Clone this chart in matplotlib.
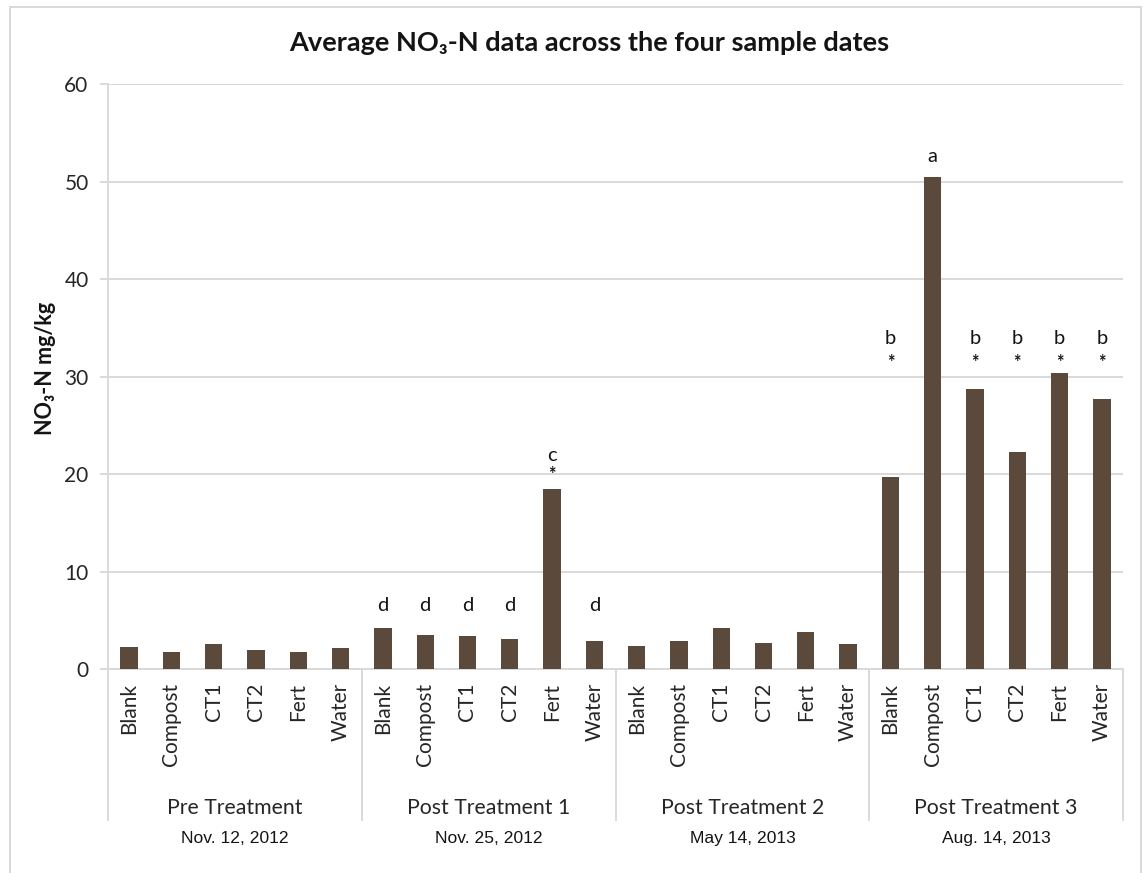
import matplotlib
matplotlib.use("Agg")
import matplotlib.pyplot as plt
import matplotlib.transforms as mtransforms
from matplotlib.patches import Rectangle

# --- data -------------------------------------------------------------
treatments = ["Blank", "Compost", "CT1", "CT2", "Fert", "Water"]
periods = ["Pre Treatment", "Post Treatment 1", "Post Treatment 2", "Post Treatment 3"]
dates = ["Nov. 12, 2012", "Nov. 25, 2012", "May 14, 2013", "Aug. 14, 2013"]

pre_treatment = [2.3, 1.7, 2.6, 2.0, 1.7, 2.2]
post_treatment_1 = [4.25, 3.45, 3.4, 3.05, 18.5, 2.85]
post_treatment_2 = [2.4, 2.85, 4.2, 2.7, 3.75, 2.6]
post_treatment_3 = [19.7, 50.5, 28.7, 22.3, 30.4, 27.7]

# significance letters and asterisks
letters_post_1 = ["d", "d", "d", "d", "c", "d"]
stars_post_1 = [False, False, False, False, True, False]
letters_post_3 = ["b", "a", "b", "b", "b", "b"]
stars_post_3 = [True, False, True, True, True, True]

yticks = [0, 10, 20, 30, 40, 50, 60]

# --- style --------------------------------------------------------------
BAR = "#5b4a3b"
GRID = "#d9d9d9"
INK = "#141414"
SANS = ["Lato", "DejaVu Sans"]
ARIAL = ["Liberation Sans", "DejaVu Sans"]

# heights at which the letters / asterisks sit, per letter
letter_level = {"a": 52.6, "b": 33.9, "c": 21.9, "d": 6.5}
star_level = {"b": 31.4, "c": 20.0}

W, H = 1144, 873
fig = plt.figure(figsize=(W / 100, H / 100), dpi=100)
ax = fig.add_axes([108 / W, 1 - 669 / H, (1123 - 108) / W, (669 - 84) / H])

groups = [pre_treatment, post_treatment_1, post_treatment_2, post_treatment_3]
values = [v for g in groups for v in g]
labels = treatments * len(groups)
xs = list(range(len(values)))

ax.bar(xs, values, width=0.41, color=BAR, zorder=3)

ax.set_xlim(-0.5, len(values) - 0.5)
ax.set_ylim(0, 60)
ax.set_yticks(yticks)
ax.yaxis.grid(True, color=GRID, lw=1.4, zorder=0)
ax.set_axisbelow(True)
ax.tick_params(axis="y", length=6, width=1.4, color=GRID, pad=8,
               labelsize=15, labelcolor="#262626")
for t in ax.get_yticklabels():
    t.set_fontfamily(SANS)
ax.set_xticks([])
for s in ["top", "right"]:
    ax.spines[s].set_visible(False)
ax.spines["left"].set_color(GRID)
ax.spines["left"].set_linewidth(1.4)
ax.spines["bottom"].set_color(GRID)
ax.spines["bottom"].set_linewidth(1.4)

blend = mtransforms.blended_transform_factory(ax.transData, ax.transAxes)

# category labels
for x, lab in zip(xs, labels):
    ax.text(x, -0.024, lab, rotation=90, ha="center", va="top",
            transform=blend, fontsize=15, family=SANS, color="#262626")

# group separators running below the axis
n = len(treatments)
for k in range(len(groups) + 1):
    ax.plot([k * n - 0.5, k * n - 0.5], [0, -0.258], transform=blend,
            color=GRID, lw=1.4, clip_on=False, zorder=1)

for k, (p, d) in enumerate(zip(periods, dates)):
    cx = k * n + (n - 1) / 2
    ax.text(cx, -0.237, p, ha="center", va="center", transform=blend,
            fontsize=15.3, family=SANS, color="#262626")
    ax.text(cx, -0.289, d, ha="center", va="center", transform=blend,
            fontsize=12.6, family=ARIAL, color=INK)

# significance annotations
def annotate(group_index, letters, stars):
    for i, (L, s) in enumerate(zip(letters, stars)):
        x = group_index * n + i
        ax.text(x, letter_level[L], L, ha="center", va="center",
                fontsize=14.5, family=SANS, color=INK, zorder=4)
        if s:
            ax.text(x, star_level[L], "*", ha="center", va="center",
                    fontsize=13, fontweight="bold", family=SANS,
                    color=INK, zorder=4)

annotate(1, letters_post_1, stars_post_1)
annotate(3, letters_post_3, stars_post_3)

# titles
fig.text(589 / W, 1 - 43 / H, "Average NO\u2083-N data across the four sample dates",
         ha="center", va="center", fontsize=19.5, fontweight="bold",
         family=SANS, color=INK)
fig.text(45 / W, 1 - 368 / H, "NO\u2083-N mg/kg", rotation=90,
         ha="center", va="center", fontsize=15.5, fontweight="bold",
         family=SANS, color=INK)

# outer chart frame
fig.patches.append(Rectangle((10 / W, -0.05), (1141 - 10) / W, 1.05 - 7 / H,
                             transform=fig.transFigure, fill=False,
                             edgecolor=GRID, lw=1.4))

fig.savefig("out.png", dpi=100, facecolor="white")
